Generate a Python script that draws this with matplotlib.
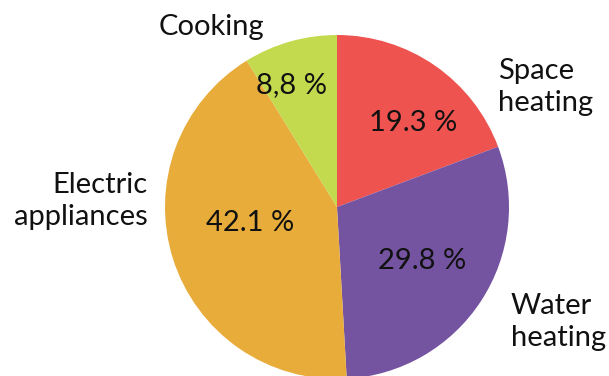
import matplotlib
matplotlib.use("Agg")
import matplotlib.pyplot as plt

# Household energy use by end use (%)
categories = ["Space\nheating", "Water\nheating", "Electric\nappliances", "Cooking"]
shares = [19.3, 29.8, 42.1, 8.8]
share_labels = ["19.3 %", "29.8 %", "42.1 %", "8,8 %"]
colors = ["#EF5350", "#7453A1", "#E8AC3A", "#C3DA4F"]

W, H = 609, 376
plt.rcParams["font.family"] = ["Lato", "DejaVu Sans"]

fig = plt.figure(figsize=(W / 100, H / 100), dpi=100)
ax = fig.add_axes([0, 0, 1, 1])

def px(x, y):
    # pixel position measured from the top-left corner
    return x, H - y

ax.pie(shares, colors=colors, startangle=90, counterclock=False,
       center=px(337, 207), radius=172,
       wedgeprops=dict(linewidth=0), frame=True)

ax.set_xlim(0, W)
ax.set_ylim(0, H)
ax.set_aspect("auto")
ax.axis("off")

fs = 21
txt = dict(fontsize=fs, color="#111111")

# percentage labels inside the wedges
pct_pos = [(413, 123), (422, 261), (250, 223), (292, 85)]
for lab, (x, y) in zip(share_labels, pct_pos):
    ax.text(*px(x, y), lab, ha="center", va="center", **txt)

# category labels around the pie
cat_pos = [(498, 87, "left"), (511, 322, "left"), (148, 201, "right"), (211, 27, "center")]
for lab, (x, y, ha) in zip(categories, cat_pos):
    ax.text(*px(x, y), lab, ha=ha, va="center", linespacing=1.3, **txt)

fig.savefig("out.png", dpi=100)
